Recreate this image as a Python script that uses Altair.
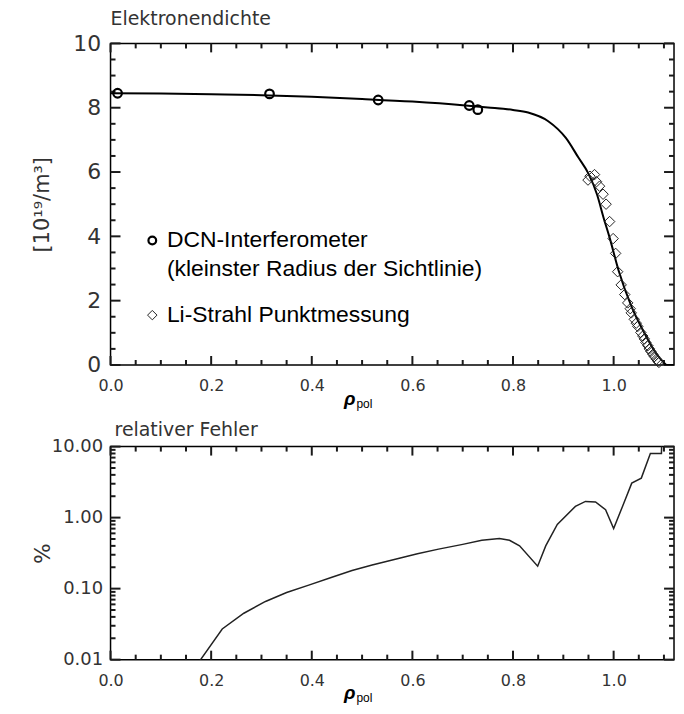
import altair as alt
import pandas as pd

# ---------------- data ----------------
curve_rho = [0.0, 0.1, 0.2, 0.3, 0.4, 0.5, 0.6, 0.7, 0.75, 0.8, 0.83, 0.87, 0.905, 0.93,
             0.95, 0.967, 0.98, 0.992, 1.01, 1.036, 1.062, 1.085, 1.099, 1.106, 1.125]
curve_ne = [8.45, 8.44, 8.42, 8.39, 8.34, 8.27, 8.19, 8.08, 8.01, 7.93, 7.85, 7.58, 7.06, 6.45,
            5.95, 5.30, 4.58, 3.96, 2.93, 1.80, 0.97, 0.35, 0.09, 0.0, 0.0]

dcn_rho = [0.014, 0.316, 0.532, 0.713, 0.730]
dcn_ne = [8.45, 8.43, 8.24, 8.07, 7.94]

li_rho = [0.949, 0.953, 0.962, 0.966, 0.972, 0.979, 0.985, 0.992, 0.999, 1.004, 1.008, 1.015,
          1.022, 1.028, 1.033, 1.035, 1.041, 1.045, 1.048, 1.054, 1.058, 1.061, 1.064, 1.068,
          1.071, 1.074, 1.078, 1.081, 1.085, 1.088, 1.090]
li_ne = [5.75, 5.87, 5.92, 5.70, 5.56, 5.31, 5.00, 4.46, 3.93, 3.47, 2.90, 2.49,
         2.19, 1.93, 1.75, 1.62, 1.42, 1.30, 1.20, 1.01, 0.90, 0.81, 0.70, 0.60,
         0.50, 0.42, 0.33, 0.26, 0.18, 0.12, 0.08]

err_rho = [0.16, 0.179, 0.222, 0.265, 0.308, 0.35, 0.394, 0.44, 0.48, 0.52, 0.566, 0.61, 0.652,
           0.70, 0.738, 0.773, 0.793, 0.813, 0.849, 0.865, 0.888, 0.924, 0.944, 0.964, 0.984,
           1.0, 1.018, 1.036, 1.055, 1.073, 1.095, 1.096]
err_pct = [0.007, 0.01, 0.027, 0.045, 0.066, 0.088, 0.112, 0.145, 0.18, 0.215, 0.26, 0.31, 0.36,
           0.42, 0.48, 0.507, 0.48, 0.40, 0.207, 0.40, 0.80, 1.44, 1.69, 1.66, 1.29,
           0.70, 1.46, 3.06, 3.6, 8.0, 8.0, 15.0]

legend_labels = ["DCN-Interferometer", "(kleinster Radius der Sichtlinie)", "Li-Strahl Punktmessung"]
legend_text_x = [0.112, 0.112, 0.112]
legend_text_y = [3.87, 2.97, 1.55]
legend_sym_x = [0.083, 0.083]
legend_sym_y = [3.87, 1.55]
legend_sym_shape = ["circle", "diamond"]

x_major = [0.0, 0.2, 0.4, 0.6, 0.8, 1.0]
x_minor = [0.05, 0.1, 0.15, 0.25, 0.3, 0.35, 0.45, 0.5, 0.55, 0.65, 0.7, 0.75,
           0.85, 0.9, 0.95, 1.05, 1.1]
ne_major = [0, 2, 4, 6, 8, 10]
ne_minor = [0.5, 1, 1.5, 2.5, 3, 3.5, 4.5, 5, 5.5, 6.5, 7, 7.5, 8.5, 9, 9.5]
err_major = [0.01, 0.1, 1, 10]
err_minor = [0.02, 0.03, 0.04, 0.05, 0.06, 0.07, 0.08, 0.09,
             0.2, 0.3, 0.4, 0.5, 0.6, 0.7, 0.8, 0.9,
             2, 3, 4, 5, 6, 7, 8, 9]

# ---------------- styling ----------------
W = 566
H1 = 323
H2 = 214
XMIN, XMAX = 0.0, 1.12
LFONT = "DejaVu Sans"
TFONT = "Liberation Sans"
GREY = "#333333"
TICKC = "#1a1a1a"
XMAJ, XMIN_T = 9, 5    # x tick lengths in px
YMAJ, YMIN_T = 10, 5   # y tick lengths in px

xs = alt.Scale(domain=[XMIN, XMAX], nice=False, zero=False)
ys1 = alt.Scale(domain=[0, 10], nice=False)
ys2 = alt.Scale(type="log", domain=[0.01, 10], nice=False)

xaxis = alt.Axis(values=x_major, format=".1f", ticks=False, tickSize=0, domain=False, grid=False,
                 labelFlush=False, labelFont=LFONT, labelFontSize=16, labelColor=GREY,
                 labelPadding=13, title=None)
X = alt.X("x:Q", scale=xs, axis=xaxis)

Y1 = alt.Y("y:Q", scale=ys1,
           axis=alt.Axis(values=ne_major, format="d", ticks=False, tickSize=0, domain=False, grid=False,
                         labelFlush=False, labelFont=LFONT, labelFontSize=22, labelColor=GREY,
                         labelPadding=10,
                         title="[10¹⁹/m³]", titleFont=LFONT, titleFontSize=21, titleFontWeight="normal",
                         titleColor=GREY, titleX=-68, titleBaseline="middle"))
Y2 = alt.Y("y:Q", scale=ys2,
           axis=alt.Axis(values=err_major, format=".2f", ticks=False, tickSize=0, domain=False, grid=False,
                         labelFlush=False, labelFont=LFONT, labelFontSize=18, labelColor=GREY,
                         labelPadding=8,
                         title="%", titleFont=LFONT, titleFontSize=22, titleFontWeight="normal",
                         titleColor=GREY, titleX=-68, titleBaseline="middle"))


def df(xv, yv=None):
    if yv is None:
        return pd.DataFrame({"x": xv})
    return pd.DataFrame({"x": xv, "y": yv})


def frame_ticks(Y, H, ymaj, ymin, ylo, yhi, log):
    """Inward ticks on all four sides of the frame."""
    layers = []

    def ystep(px):
        if log:
            return 10 ** (px * 3.0 / H)
        return px * (yhi - ylo) / H

    def yin(base, px, up):
        if log:
            return base * ystep(px) if up else base / ystep(px)
        return base + ystep(px) if up else base - ystep(px)

    for vals, ln in ((x_major, XMAJ), (x_minor, XMIN_T)):
        n = len(vals)
        bot = pd.DataFrame({"x": vals, "y": [ylo] * n, "ye": [yin(ylo, ln, True)] * n})
        topd = pd.DataFrame({"x": vals, "y": [yhi] * n, "ye": [yin(yhi, ln, False)] * n})
        for d in (bot, topd):
            layers.append(alt.Chart(d).mark_rule(color=TICKC, strokeWidth=2).encode(
                x=X, y=Y, y2=alt.Y2("ye")))
    for vals, ln in ((ymaj, YMAJ), (ymin, YMIN_T)):
        d = pd.DataFrame({"y": vals})
        for xpos in (ln / 2.0, W - ln / 2.0):
            layers.append(alt.Chart(d).mark_tick(
                color=TICKC, orient="horizontal", size=ln, thickness=2, opacity=1).encode(
                y=Y, x=alt.value(xpos)))
    return layers


def rho_label(H):
    rho = alt.Chart(pd.DataFrame({"t": ["ρ"]})).mark_text(
        font=TFONT, fontSize=19, fontStyle="italic", fontWeight="bold", color="black",
        align="right", baseline="middle").encode(
        x=alt.value(246), y=alt.value(H + 34), text="t:N")
    pol = alt.Chart(pd.DataFrame({"t": ["pol"]})).mark_text(
        font=TFONT, fontSize=12, color="black", align="left", baseline="middle").encode(
        x=alt.value(247), y=alt.value(H + 39), text="t:N")
    return [rho, pol]


# ---------------- top panel ----------------
curve = alt.Chart(df(curve_rho, curve_ne)).mark_line(
    color="black", strokeWidth=2, interpolate="monotone", clip=True).encode(x=X, y=Y1)
dcn = alt.Chart(df(dcn_rho, dcn_ne)).mark_point(
    shape="circle", filled=False, color="black", strokeWidth=2.2, size=75, opacity=1).encode(x=X, y=Y1)
li = alt.Chart(df(li_rho, li_ne)).mark_point(
    shape="diamond", filled=False, color="#222222", strokeWidth=1, size=110, opacity=1).encode(x=X, y=Y1)

leg_df = pd.DataFrame({"x": legend_text_x, "y": legend_text_y, "label": legend_labels})
leg_text = alt.Chart(leg_df).mark_text(
    font=TFONT, fontSize=23, color="black", align="left", baseline="middle").encode(
    x=X, y=Y1, text="label:N")
sym_df = pd.DataFrame({"x": legend_sym_x, "y": legend_sym_y, "shape": legend_sym_shape})
leg_circ = alt.Chart(sym_df[sym_df["shape"] == "circle"]).mark_point(
    shape="circle", filled=False, color="black", strokeWidth=2.2, size=60, opacity=1).encode(x=X, y=Y1)
leg_diam = alt.Chart(sym_df[sym_df["shape"] == "diamond"]).mark_point(
    shape="diamond", filled=False, color="#222222", strokeWidth=1, size=90, opacity=1).encode(x=X, y=Y1)

top = alt.layer(
    *frame_ticks(Y1, H1, ne_major, ne_minor, 0.0, 10.0, False),
    curve, dcn, li, leg_text, leg_circ, leg_diam,
    *rho_label(H1),
).properties(
    width=W, height=H1,
    title=alt.TitleParams("Elektronendichte", anchor="start", frame="group", font=LFONT,
                          fontSize=19, fontWeight="normal", color=GREY, offset=3),
)

# ---------------- bottom panel ----------------
err_line = alt.Chart(df(err_rho, err_pct)).mark_line(
    color="#222222", strokeWidth=1.5, clip=True).encode(x=X, y=Y2)

bottom = alt.layer(
    *frame_ticks(Y2, H2, err_major, err_minor, 0.01, 10.0, True),
    err_line,
    *rho_label(H2),
).properties(
    width=W, height=H2,
    title=alt.TitleParams("relativer Fehler", anchor="start", frame="group", font=LFONT,
                          fontSize=19, fontWeight="normal", color=GREY, offset=-2, dx=4),
)

chart = alt.vconcat(top, bottom, spacing=9).properties(
    padding={"left": 23, "top": 0, "right": 1, "bottom": 0},
    background="white",
).configure_view(stroke="black", strokeWidth=1.5)

chart.save("out.html", embed_options={"renderer": "svg", "actions": False})
